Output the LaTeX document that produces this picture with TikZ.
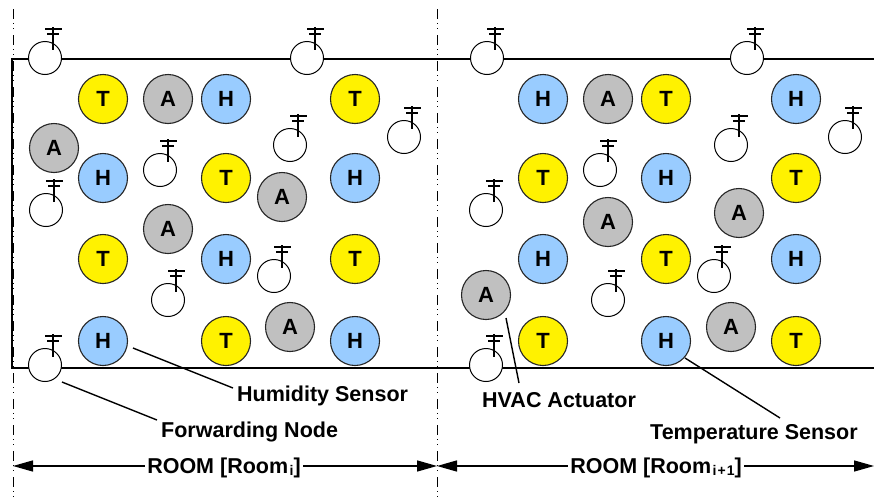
\documentclass[tikz,border=0pt]{standalone}
\usepackage{fontspec}
\setmainfont{Liberation Sans}
\usetikzlibrary{arrows.meta,calc}
\definecolor{hblue}{HTML}{99CCFF}
\definecolor{agray}{HTML}{C0C0C0}
\newcommand\roomsub[1]{\hspace{1.5pt}\raisebox{-2.5pt}{\fontsize{14}{14}\selectfont\bfseries #1}}
\begin{document}
\begin{tikzpicture}[x=1pt,y=-1pt,
 sensor/.style={circle,draw=black!85,line width=1.1pt,minimum size=49pt,inner sep=0pt,font=\fontsize{22}{22}\selectfont\bfseries},
 tsens/.style={sensor,fill=yellow},
 hsens/.style={sensor,fill=hblue},
 asens/.style={sensor,fill=agray},
 fwd/.style={circle,draw,fill=white,line width=1pt,minimum size=33pt,inner sep=0pt},
 ant/.style={line width=1.1pt},
 room/.style={line width=2pt},
 divider/.style={line width=0.9pt,dash pattern=on 10pt off 4pt on 1pt off 4pt on 1pt off 6pt},
 lbl/.style={font=\fontsize{21.5}{22}\selectfont\bfseries,inner sep=0pt},
 lead/.style={line width=1.4pt},
 dim/.style={line width=1.4pt,{Triangle[length=20pt,width=11pt]}-{Triangle[length=20pt,width=11pt]}},
 roomlbl/.style={font=\fontsize{21.5}{22}\selectfont\bfseries,fill=white,inner xsep=2pt,inner ysep=1pt},
]
\useasboundingbox (0,0) rectangle (874,498);
% dividers
\coordinate (d0t) at (13,9); \coordinate (d0b) at (13,498);
\coordinate (d1t) at (437,9); \coordinate (d1b) at (437,498);
\draw[divider] (d0t) -- (d0b);
\draw[divider] (d1t) -- (d1b);
% room outline
\coordinate (rtl) at (12,59); \coordinate (rtr) at (874,59);
\coordinate (rbl) at (12,368); \coordinate (rbr) at (874,368);
\draw[room] (rtr) -- (rtl) -- (rbl) -- (rbr);
% sensors
\foreach \n/\x/\y in {t1/103/99,t2/355/99,t3/226/178,t4/103/259,t5/355/259,t6/226/341,
  t7/666/99,t8/543/178,t9/796/178,t10/666/259,t11/543/341,t12/796/341}
  \node[tsens] (\n) at (\x,\y) {T};
\foreach \n/\x/\y in {h1/226/99,h2/103/178,h3/355/178,h4/226/259,hum1/103/341,h6/355/341,
  h7/543/99,h8/796/99,h9/666/178,h10/543/259,h11/796/259,tem1/666/341}
  \node[hsens] (\n) at (\x,\y) {H};
\foreach \n/\x/\y in {a1/168/99,a2/54/148,a3/168/229,a4/282/197,a5/290/327,
  a6/608/99,a7/608/222,hv1/486/295,a9/739/213,a10/731/327}
  \node[asens] (\n) at (\x,\y) {A};
% forwarding nodes
\foreach \n/\x/\y in {f1/45/58,f2/307/58,f3/160/170,f4/46/210,f5/168/300,f6/290/145,f7/404/137,f8/274/276,fw1/45/365,
  f10/487/58,f11/747/58,f12/600/170,f13/486/210,f14/608/300,f15/731/145,f16/845/137,f17/714/276,f18/486/365}
{
  \node[fwd] (\n) at (\x,\y) {};
  \draw[ant] ($(\n)+(8,-31)$) -- ($(\n)+(8,-8)$);
  \draw[ant] ($(\n)+(0,-29)$) -- ($(\n)+(17,-29)$);
  \draw[ant] ($(\n)+(2,-24)$) -- ($(\n)+(14,-24)$);
}
% labels
\node[lbl,anchor=base west] (hum) at (237,401) {Humidity Sensor};
\node[lbl,anchor=base west] (fwl) at (161,437) {Forwarding Node};
\node[lbl,anchor=base west] (hvac) at (482,407) {HVAC Actuator};
\node[lbl,anchor=base west] (temp) at (650,439) {Temperature Sensor};
\draw[lead] ($(hum1)+(30,7)$) -- ($(hum.base west)+(-4,-13)$);
\draw[lead] ($(fw1)+(17,17)$) -- ($(fwl.base west)+(-4,-17)$);
\draw[lead] ($(hv1)+(20,23)$) -- ($(hvac.base west)+(37,-24)$);
\draw[lead] ($(tem1)+(19,17)$) -- ($(temp.base west)+(130,-21)$);
% dimension arrows
\coordinate (a0) at (13,466); \coordinate (a1e) at (437,466); \coordinate (a2e) at (874,466);
\draw[dim] (a0) -- (a1e);
\draw[dim] (a1e) -- (a2e);
\node[roomlbl,anchor=base] (r1) at (224,473) {ROOM [Room\roomsub{i}]};
\node[roomlbl,anchor=base] (r2) at (656,473) {ROOM [Room\roomsub{i\hspace{1pt}+\hspace{1pt}1}]};
\end{tikzpicture}
\end{document}
